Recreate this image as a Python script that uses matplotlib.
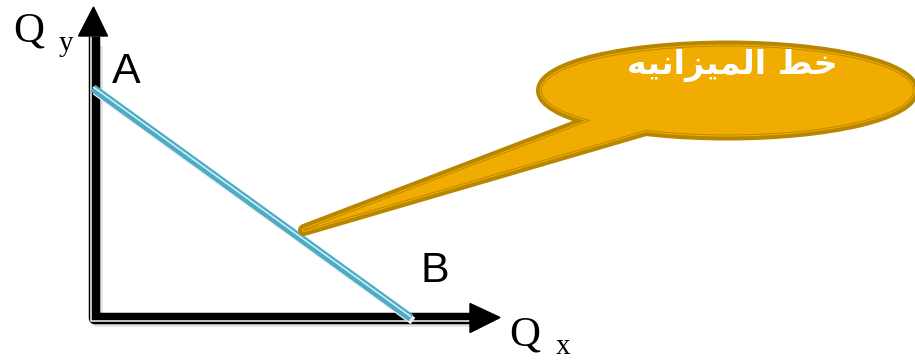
import matplotlib
matplotlib.use('Agg')
import matplotlib.pyplot as plt
from matplotlib.patches import Ellipse, Polygon

# ---- diagram content (pixel space of the 915x360 picture) ----
origin = (93.5, 317.5)
y_axis_top = 36
x_axis_end = 470
point_A = (93, 88)
point_B = (411, 318)
label_texts = ['A', 'B']
bubble_center = (727.5, 90.5)
bubble_size = (371, 88)
tail_points = [(304, 230), (597, 118), (640, 100), (656, 127)]
bubble_text = 'خط الميزانيه'

# ---- minimal Arabic shaping (presentation forms) ----
FORMS = {  # isolated, final, initial, medial
    'ا': ('\uFE8D', '\uFE8E', None, None),
    'ز': ('\uFEAF', '\uFEB0', None, None),
    'خ': ('\uFEA5', '\uFEA6', '\uFEA7', '\uFEA8'),
    'ط': ('\uFEC1', '\uFEC2', '\uFEC3', '\uFEC4'),
    'ل': ('\uFEDD', '\uFEDE', '\uFEDF', '\uFEE0'),
    'م': ('\uFEE1', '\uFEE2', '\uFEE3', '\uFEE4'),
    'ن': ('\uFEE5', '\uFEE6', '\uFEE7', '\uFEE8'),
    'ه': ('\uFEE9', '\uFEEA', '\uFEEB', '\uFEEC'),
    'ي': ('\uFEF1', '\uFEF2', '\uFEF3', '\uFEF4'),
}


def shape(txt):
    out = []
    for i, c in enumerate(txt):
        if c not in FORMS:
            out.append(c)
            continue
        f = FORMS[c]
        prev = txt[i - 1] if i > 0 else ''
        nxt = txt[i + 1] if i + 1 < len(txt) else ''
        pj = prev in FORMS and FORMS[prev][2] is not None
        nj = nxt in FORMS and f[2] is not None
        if pj and nj:
            out.append(f[3])
        elif pj:
            out.append(f[1])
        elif nj:
            out.append(f[2])
        else:
            out.append(f[0])
    return ''.join(out)[::-1]


def px(v):
    return v * 72 / 100.0


fig = plt.figure(figsize=(9.15, 3.6), dpi=100)
ax = fig.add_axes([0, 0, 1, 1])
ax.set_xlim(0, 915)
ax.set_ylim(360, 0)
ax.axis('off')

# ---- axes (double black line with white inner stripe) ----
ox, oy = origin
# soft shadow
ax.plot([ox + 3, ox + 3, x_axis_end], [y_axis_top + 10, oy + 3, oy + 3],
        color='#e4e4e4', lw=px(12), solid_joinstyle='round', zorder=1,
        solid_capstyle='butt')
ax.plot([ox, ox, x_axis_end], [y_axis_top, oy, oy], color='black',
        lw=px(11.5), solid_joinstyle='round', solid_capstyle='butt', zorder=2)
ax.plot([ox - 2.4, ox - 2.4, x_axis_end], [y_axis_top, oy + 3.2, oy + 3.2],
        color='white', lw=px(1.5), solid_joinstyle='miter',
        solid_capstyle='butt', zorder=3)
# arrow heads
ax.add_patch(Polygon([(ox, 7), (ox - 15, y_axis_top), (ox + 14, y_axis_top)],
                     closed=True, color='black', zorder=4))
ax.add_patch(Polygon([(500, oy), (x_axis_end, oy - 14), (x_axis_end, oy + 15)],
                     closed=True, color='black', zorder=4))

# ---- budget line ----
ax.plot([point_A[0] + 2, point_B[0] + 2], [point_A[1] + 3, point_B[1] + 3],
        color='#ececec', lw=px(8), solid_capstyle='butt', zorder=4.5)
ax.plot([point_A[0], point_B[0]], [point_A[1], point_B[1]], color='#4BACC6',
        lw=px(8), solid_capstyle='butt', zorder=5)
ax.plot([point_A[0], point_B[0]], [point_A[1] - 1.2, point_B[1] - 1.2],
        color='#d6eef5', lw=px(1.6), solid_capstyle='butt', zorder=6)

# ---- callout bubble ----
dark = '#B98600'
fill = '#F0AC00'


def shapes():
    e = Ellipse(bubble_center, bubble_size[0], bubble_size[1])
    t = Polygon(tail_points, closed=True)
    return [e, t]


layers = [
    dict(fc='none', ec=dark, lw=px(12), z=7),
    dict(fc='none', ec=fill, lw=px(4), z=8),
    dict(fc='none', ec=dark, lw=px(1.8), z=9),
    dict(fc=fill, ec='none', lw=0, z=10),
]
for L in layers:
    for p in shapes():
        p.set_facecolor(L['fc'])
        p.set_edgecolor(L['ec'])
        p.set_linewidth(L['lw'])
        p.set_joinstyle('round')
        p.set_zorder(L['z'])
        ax.add_patch(p)

ax.text(732, 74, shape(bubble_text), color='white', fontsize=24,
        fontweight='bold', family=['DejaVu Sans'], ha='center',
        va='baseline', zorder=11)

# ---- labels ----
serif = ['Liberation Serif', 'DejaVu Serif']
sans = ['Liberation Sans', 'DejaVu Sans']
ax.text(13, 41, 'Q', fontsize=31, family=serif, ha='left', va='baseline')
ax.text(59, 51, 'y', fontsize=21, family=serif, ha='left', va='baseline')
ax.text(112, 83, label_texts[0], fontsize=31, family=sans, ha='left',
        va='baseline')
ax.text(421, 282, label_texts[1], fontsize=31, family=sans, ha='left',
        va='baseline')
ax.text(509, 345, 'Q', fontsize=31, family=serif, ha='left', va='baseline')
ax.text(556, 354, 'x', fontsize=21, family=serif, ha='left', va='baseline')

fig.savefig('out.png', dpi=100)
